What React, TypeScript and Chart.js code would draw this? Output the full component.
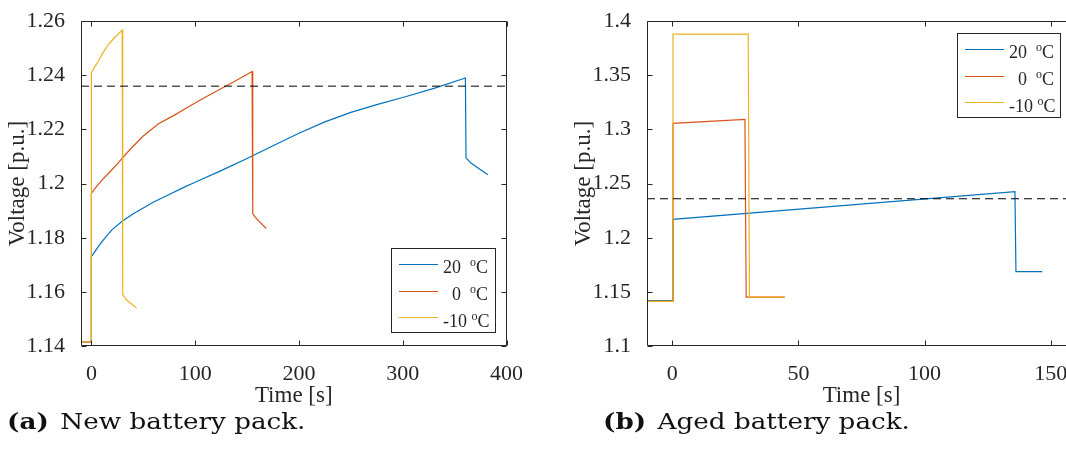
import React, { useEffect, useRef } from 'react';
import { Chart, registerables } from 'chart.js';

Chart.register(...registerables);

// ---------- colours / fonts ----------
const BLUE = '#0072BD';
const ORANGE = '#D95319';
const YELLOW = '#EDB120';
const AXIS = '#262626';
const SERIF = '"Liberation Serif", "Times New Roman", serif';

// ---------- (a) new battery pack ----------
const newTime20 = [-10, 0, 0, 5, 10, 15, 20, 30, 40, 50, 60, 75, 90, 100, 125, 150, 175, 200, 225, 250, 275, 300, 330, 360.4, 361, 366, 382];
const newVolt20 = [1.1415, 1.1415, 1.173, 1.1758, 1.1785, 1.1808, 1.183, 1.1862, 1.1888, 1.191, 1.1932, 1.196, 1.1988, 1.2005, 1.2048, 1.2093, 1.214, 1.2186, 1.2228, 1.2263, 1.2292, 1.2318, 1.2352, 1.239, 1.2095, 1.2075, 1.2033];

const newTime0 = [-10, 0, 0, 5, 10, 17, 25, 37, 50, 64.7, 80, 92, 108, 123, 140, 154.8, 155.5, 158, 168.4];
const newVolt0 = [1.1415, 1.1415, 1.1964, 1.199, 1.2012, 1.204, 1.2073, 1.2125, 1.2176, 1.2221, 1.2253, 1.228, 1.2315, 1.2347, 1.2382, 1.2414, 1.1889, 1.1875, 1.1834];

const newTimeM10 = [-10, 0, 0, 3, 6.4, 11, 16, 22, 29.7, 30.2, 34, 43.7];
const newVoltM10 = [1.1415, 1.1415, 1.241, 1.243, 1.245, 1.2483, 1.2512, 1.2538, 1.2567, 1.159, 1.157, 1.154];

const newXTicks = [0, 100, 200, 300, 400];
const newYTicks = [1.14, 1.16, 1.18, 1.2, 1.22, 1.24, 1.26];

// ---------- (b) aged battery pack ----------
const agedTime20 = [-10, 0, 0.3, 135.8, 136.2, 146.6];
const agedVolt20 = [1.142, 1.142, 1.217, 1.2425, 1.1687, 1.1687];

const agedTime0 = [-10, 0, 0.3, 28.8, 29.3, 44.6];
const agedVolt0 = [1.1412, 1.1412, 1.3056, 1.3093, 1.1452, 1.1452];

const agedTimeM10 = [-10, 0, 0.3, 30.1, 30.6, 44.6];
const agedVoltM10 = [1.1412, 1.1412, 1.388, 1.388, 1.1452, 1.1452];

const agedXTicks = [0, 50, 100, 150];
const agedYTicks = [1.1, 1.15, 1.2, 1.25, 1.3, 1.35, 1.4];

// ---------- shared ----------
const legendLabels = ['20  ^oC', '  0  ^oC', '-10 ^oC'];
const thresholdVoltage = 1.236;
const xTitle = 'Time [s]';
const yTitle = 'Voltage [p.u.]';

const zip = (t: number[], v: number[]) => t.map((x, i) => ({ x, y: v[i] }));

// frame + inward ticks, MATLAB style
const framePlugin = {
  id: 'matlabFrame',
  afterDatasetsDraw(chart: any) {
    const { ctx, chartArea } = chart;
    const { left, right, top, bottom } = chartArea;
    const xs = chart.scales.x;
    const ys = chart.scales.y;
    const L = Math.round(left) + 0.5;
    const R = Math.round(right) - 0.5;
    const T = Math.round(top) + 0.5;
    const B = Math.round(bottom) - 0.5;
    ctx.save();
    ctx.strokeStyle = AXIS;
    ctx.lineWidth = 1;
    ctx.beginPath();
    ctx.rect(L, T, R - L, B - T);
    const tl = 5;
    xs.ticks.forEach((t: any) => {
      const px = Math.round(xs.getPixelForValue(t.value)) + 0.5;
      ctx.moveTo(px, B);
      ctx.lineTo(px, B - tl);
      ctx.moveTo(px, T);
      ctx.lineTo(px, T + tl);
    });
    ys.ticks.forEach((t: any) => {
      const py = Math.round(ys.getPixelForValue(t.value)) + 0.5;
      ctx.moveTo(L, py);
      ctx.lineTo(L + tl, py);
      ctx.moveTo(R, py);
      ctx.lineTo(R - tl, py);
    });
    ctx.stroke();
    ctx.restore();
  },
};

// MATLAB style legend box
const legendPlugin = {
  id: 'matlabLegend',
  afterDraw(chart: any, _args: any, opts: any) {
    const { ctx } = chart;
    const { left, top, width, height } = opts;
    const items = chart.data.datasets.filter((d: any) => d.legendText);
    ctx.save();
    ctx.fillStyle = '#ffffff';
    ctx.fillRect(left, top, width, height);
    ctx.strokeStyle = AXIS;
    ctx.lineWidth = 1;
    ctx.strokeRect(Math.round(left) + 0.5, Math.round(top) + 0.5, width, height);
    items.forEach((d: any, i: number) => {
      const rowY = top + 15.7 + i * 26.8;
      ctx.strokeStyle = d.borderColor;
      ctx.lineWidth = 1.2;
      ctx.beginPath();
      ctx.moveTo(left + 8, Math.round(rowY) + 0.5);
      ctx.lineTo(left + 47, Math.round(rowY) + 0.5);
      ctx.stroke();
      const [pre, post] = String(d.legendText).split('^o');
      const base = rowY + 9.5;
      let x = left + 52;
      ctx.fillStyle = AXIS;
      ctx.textBaseline = 'alphabetic';
      ctx.textAlign = 'left';
      ctx.font = `18px ${SERIF}`;
      ctx.fillText(pre, x, base);
      x += ctx.measureText(pre).width;
      ctx.font = `12px ${SERIF}`;
      ctx.fillText('o', x, base - 7);
      x += ctx.measureText('o').width;
      ctx.font = `18px ${SERIF}`;
      ctx.fillText(post, x, base);
    });
    ctx.restore();
  },
};

interface PanelProps {
  series: { t: number[]; v: number[]; color: string; label: string }[];
  xMin: number;
  xMax: number;
  yMin: number;
  yMax: number;
  xTicks: number[];
  yTicks: number[];
  canvasWidth: number;
  yAxisWidth: number;
  padRight: number;
  yTitlePad: number;
  legend: { left: number; top: number; width: number; height: number };
  style: React.CSSProperties;
}

function Panel(p: PanelProps) {
  const ref = useRef<HTMLCanvasElement | null>(null);
  useEffect(() => {
    if (!ref.current) return;
    const tickFont = { family: SERIF, size: 22 };
    const xTitleFont = { family: SERIF, size: 23 };
    const yTitleFont = { family: SERIF, size: 23 };
    const datasets: any[] = p.series.map((s, i) => ({
      label: s.label,
      legendText: s.label,
      data: zip(s.t, s.v),
      borderColor: s.color,
      backgroundColor: s.color,
      borderWidth: 1.2,
      pointRadius: 0,
      fill: false,
      tension: 0,
      order: p.series.length - i,
    }));
    datasets.push({
      label: 'threshold',
      data: [
        { x: p.xMin, y: thresholdVoltage },
        { x: p.xMax, y: thresholdVoltage },
      ],
      borderColor: '#000000',
      borderWidth: 1,
      borderDash: [8, 5],
      pointRadius: 0,
      fill: false,
      order: 0,
    });
    const chart = new Chart(ref.current, {
      type: 'line',
      data: { datasets },
      plugins: [framePlugin, legendPlugin],
      options: {
        animation: false,
        responsive: false,
        maintainAspectRatio: false,
        events: [],
        layout: {
          autoPadding: false,
          padding: { left: 0, top: 19, right: p.padRight, bottom: 0 },
        },
        plugins: {
          legend: { display: false },
          tooltip: { enabled: false },
          matlabLegend: p.legend,
        } as any,
        scales: {
          x: {
            type: 'linear',
            min: p.xMin,
            max: p.xMax,
            afterBuildTicks: (s: any) => {
              s.ticks = p.xTicks.map((value) => ({ value }));
            },
            afterFit: (s: any) => {
              s.height = 64;
            },
            grid: { display: false },
            border: { display: false },
            ticks: {
              font: tickFont,
              color: AXIS,
              padding: 7,
              maxRotation: 0,
              autoSkip: false,
              callback: (v: any) => String(Number(v)),
            },
            title: {
              display: true,
              text: xTitle,
              font: xTitleFont,
              color: AXIS,
              padding: { top: 0, bottom: 0 },
            },
          },
          y: {
            type: 'linear',
            min: p.yMin,
            max: p.yMax,
            afterBuildTicks: (s: any) => {
              s.ticks = p.yTicks.map((value) => ({ value }));
            },
            afterFit: (s: any) => {
              s.width = p.yAxisWidth;
            },
            grid: { display: false },
            border: { display: false },
            ticks: {
              font: tickFont,
              color: AXIS,
              padding: 8,
              autoSkip: false,
              callback: (v: any) => String(Number(Number(v).toFixed(4))),
            },
            title: {
              display: true,
              text: yTitle,
              font: yTitleFont,
              color: AXIS,
              padding: { top: p.yTitlePad, bottom: 0 },
            },
          },
        },
      } as any,
    });
    return () => chart.destroy();
  }, []);
  return (
    <canvas
      ref={ref}
      width={p.canvasWidth}
      height={410}
      style={{ position: 'absolute', width: p.canvasWidth, height: 410, ...p.style }}
    />
  );
}

const captionStyle: React.CSSProperties = {
  position: 'absolute',
  top: 408,
  fontFamily: '"DejaVu Serif", serif',
  fontSize: 23,
  lineHeight: '26px',
  color: '#111111',
  whiteSpace: 'pre',
  transform: 'scaleX(1.14)',
  transformOrigin: '0 0',
};

export default function App() {
  return (
    <div
      style={{
        position: 'fixed',
        left: 0,
        top: 0,
        width: 1066,
        height: 452,
        overflow: 'hidden',
        background: '#ffffff',
      }}
    >
      <Panel
        series={[
          { t: newTime20, v: newVolt20, color: BLUE, label: legendLabels[0] },
          { t: newTime0, v: newVolt0, color: ORANGE, label: legendLabels[1] },
          { t: newTimeM10, v: newVoltM10, color: YELLOW, label: legendLabels[2] },
        ]}
        xMin={-10}
        xMax={400}
        yMin={1.14}
        yMax={1.26}
        xTicks={newXTicks}
        yTicks={newYTicks}
        canvasWidth={530}
        yAxisWidth={81}
        padRight={21}
        yTitlePad={4}
        legend={{ left: 391, top: 248, width: 104, height: 84 }}
        style={{ left: 0, top: 0 }}
      />
      <Panel
        series={[
          { t: agedTime20, v: agedVolt20, color: BLUE, label: legendLabels[0] },
          { t: agedTime0, v: agedVolt0, color: ORANGE, label: legendLabels[1] },
          { t: agedTimeM10, v: agedVoltM10, color: YELLOW, label: legendLabels[2] },
        ]}
        xMin={-10}
        xMax={160}
        yMin={1.1}
        yMax={1.4}
        xTicks={agedXTicks}
        yTicks={agedYTicks}
        canvasWidth={560}
        yAxisWidth={117}
        padRight={14}
        yTitlePad={40}
        legend={{ left: 427, top: 33, width: 103, height: 84 }}
        style={{ left: 530, top: 0 }}
      />
      <div style={{ ...captionStyle, left: 7 }}>
        <span style={{ fontWeight: 'bold' }}>(a)</span>
        <span style={{ marginLeft: 10 }}>New battery pack.</span>
      </div>
      <div style={{ ...captionStyle, left: 603 }}>
        <span style={{ fontWeight: 'bold' }}>(b)</span>
        <span style={{ marginLeft: 10 }}>Aged battery pack.</span>
      </div>
    </div>
  );
}
